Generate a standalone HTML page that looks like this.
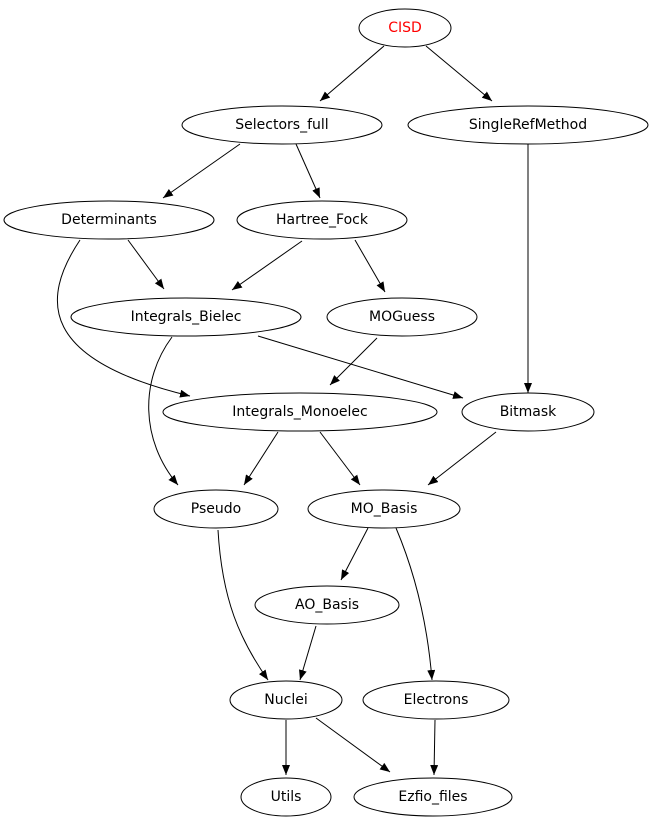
<!DOCTYPE html>
<html><head><meta charset="utf-8"><style>
html,body{margin:0;padding:0;background:#fff;}
svg text{font-family:"DejaVu Sans","Liberation Sans",sans-serif;font-size:14px;text-anchor:middle;dominant-baseline:central;}
</style></head><body>
<svg width="655" height="827" viewBox="0 0 655 827" xmlns="http://www.w3.org/2000/svg">
<defs><marker id="a" markerWidth="10" markerHeight="8" refX="10" refY="4" orient="auto" markerUnits="userSpaceOnUse"><path d="M0,0 L10,4 L0,8 z" fill="#000"/></marker></defs>
<g fill="none" stroke="#000" stroke-width="1" marker-end="url(#a)">
<path d="M384,46 L320,101"/>
<path d="M426,46 L492,101"/>
<path d="M528,144 L528,393"/>
<path d="M240,144 L163,198"/>
<path d="M296,144 L320,198"/>
<path d="M128,240 L164,289"/>
<path d="M302,241 L232,290"/>
<path d="M355,240 L385,292"/>
<path d="M80,240 C40,300 40,360 190,396"/>
<path d="M258,336 L463,398"/>
<path d="M172,337 C140,380 140,440 178,485"/>
<path d="M377,338 L330,385"/>
<path d="M278,432 L244,485"/>
<path d="M320,432 L360,485"/>
<path d="M496,432 L428,485"/>
<path d="M368,528 L341,580"/>
<path d="M396,528 C418,580 428,630 432,680"/>
<path d="M218,530 C222,600 240,640 268,680"/>
<path d="M316,626 L300,680"/>
<path d="M286,720 L286,775"/>
<path d="M316,718 L390,772"/>
<path d="M435,720 L434,775"/>
</g>
<g fill="none" stroke="#000" stroke-width="1">
<ellipse cx="405" cy="28" rx="46" ry="19"/>
<ellipse cx="282" cy="125" rx="100" ry="19"/>
<ellipse cx="528" cy="125" rx="120" ry="19"/>
<ellipse cx="109" cy="220" rx="105" ry="19"/>
<ellipse cx="322" cy="220" rx="85" ry="19"/>
<ellipse cx="186" cy="317" rx="115" ry="19"/>
<ellipse cx="402" cy="317" rx="75" ry="19"/>
<ellipse cx="300" cy="412" rx="137" ry="19"/>
<ellipse cx="528" cy="412" rx="66" ry="19"/>
<ellipse cx="216" cy="509" rx="62" ry="19"/>
<ellipse cx="384" cy="509" rx="76" ry="19"/>
<ellipse cx="327" cy="605" rx="72" ry="19"/>
<ellipse cx="286" cy="700" rx="56" ry="19"/>
<ellipse cx="436" cy="700" rx="73" ry="19"/>
<ellipse cx="286" cy="797" rx="45" ry="19"/>
<ellipse cx="433" cy="797" rx="79" ry="19"/>
</g>
<text x="405" y="28" fill="#f00">CISD</text>
<text x="282" y="125">Selectors_full</text>
<text x="528" y="125">SingleRefMethod</text>
<text x="109" y="220">Determinants</text>
<text x="322" y="220">Hartree_Fock</text>
<text x="186" y="317">Integrals_Bielec</text>
<text x="402" y="317">MOGuess</text>
<text x="300" y="412">Integrals_Monoelec</text>
<text x="528" y="412">Bitmask</text>
<text x="216" y="509">Pseudo</text>
<text x="384" y="509">MO_Basis</text>
<text x="327" y="605">AO_Basis</text>
<text x="286" y="700">Nuclei</text>
<text x="436" y="700">Electrons</text>
<text x="286" y="797">Utils</text>
<text x="433" y="797">Ezfio_files</text>
</svg>
</body></html>
